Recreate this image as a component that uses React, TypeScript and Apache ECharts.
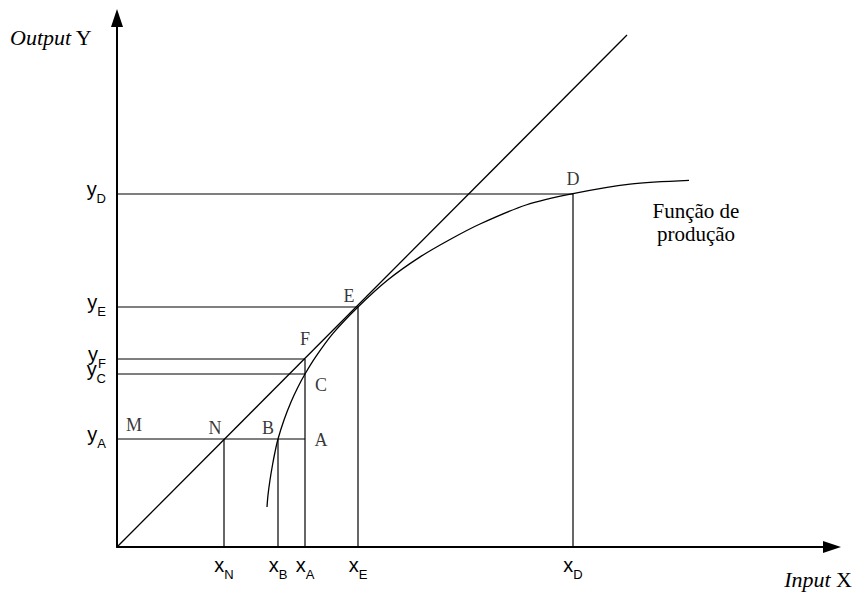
import React, { useEffect, useRef } from "react";
import * as echarts from "echarts";

// Axis tick labels (subscripts) and their positions
const xTickNames = ["N", "B", "A", "E", "D"];
const xTickValues = [10.7, 16.1, 18.8, 24.1, 45.6];
const yTickNames = ["A", "C", "F", "E", "D"];
const yTickValues = [10.8, 17.3, 18.8, 24.0, 35.3];

// Where each guide line ends
const hLineEndX = [18.8, 18.8, 18.8, 24.1, 45.6]; // for yTickValues
const vLineEndY = [10.8, 10.8, 18.8, 24.0, 35.3]; // for xTickValues

// Production function curve
const curveX = [15.0, 15.1, 15.3, 15.55, 15.8, 16.1, 16.7, 17.4, 18.1, 18.8, 19.9, 21.6, 24.1, 27.1, 30.2, 33.3, 36.3, 40.9, 45.6, 51.3, 57.2];
const curveY = [4.0, 5.2, 6.7, 8.2, 9.5, 10.8, 12.7, 14.5, 16.0, 17.3, 19.06, 21.36, 24.0, 26.72, 28.94, 30.75, 32.3, 34.2, 35.33, 36.28, 36.66];

// Ray from the origin
const rayX = [0, 51.0];
const rayY = [0, 51.2];

// Labelled points
const pointNames = ["D", "E", "F", "C", "M", "N", "B", "A"];
const pointX = [45.6, 24.1, 18.8, 18.8, 0, 10.7, 16.1, 18.8];
const pointY = [35.33, 24.0, 18.8, 17.3, 10.8, 10.8, 10.8, 10.8];

const X_MAX = 71.5;
const Y_MAX = 52.9;

const labelOffsets: Record<string, [number, number]> = {
  D: [0, -15],
  E: [-9, -11],
  F: [0, -20],
  C: [16, 11],
  M: [17, -14],
  N: [-9, -11],
  B: [-10, -11],
  A: [16, 1],
};

const SANS = "Liberation Sans";
const SERIF = "Liberation Serif";

const tickRich = {
  m: { fontFamily: SANS, fontSize: 20, lineHeight: 14, color: "#000", padding: [0, 0, 11, 0] },
  s: { fontFamily: SANS, fontSize: 13, lineHeight: 14, color: "#000", padding: [9, 0, 0, 0] },
};

function findIdx(arr: number[], v: number) {
  for (let i = 0; i < arr.length; i++) if (Math.abs(arr[i] - v) < 1e-6) return i;
  return -1;
}

export default function App() {
  const ref = useRef<HTMLDivElement>(null);
  useEffect(() => {
    document.body.style.margin = "0";
    if (!ref.current) return;
    const chart = echarts.init(ref.current, undefined, { renderer: "svg" });
    const lineStyle = { color: "#000", width: 1.2 };
    const guideSeries: any[] = [];
    yTickValues.forEach((y, i) => {
      guideSeries.push({
        type: "line",
        data: [[0, y], [hLineEndX[i], y]],
        symbol: "none",
        silent: true,
        lineStyle,
      });
    });
    xTickValues.forEach((x, i) => {
      guideSeries.push({
        type: "line",
        data: [[x, 0], [x, vLineEndY[i]]],
        symbol: "none",
        silent: true,
        lineStyle,
      });
    });

    const option: any = {
      animation: false,
      grid: { left: 117, right: 22, top: 18, bottom: 45, containLabel: false, outerBoundsMode: "none" },
      xAxis: {
        type: "value",
        min: 0,
        max: X_MAX,
        splitLine: { show: false },
        axisTick: { show: false },
        axisLine: {
          show: true,
          onZero: false,
          symbol: ["none", "triangle"],
          symbolSize: [12, 18],
          lineStyle: { color: "#000", width: 2 },
        },
        axisLabel: {
          show: true,
          customValues: xTickValues,
          margin: 16,
          hideOverlap: false,
          formatter: (v: number) => {
            const i = findIdx(xTickValues, v);
            return i < 0 ? "" : `{m|x}{s|${xTickNames[i]}}`;
          },
          rich: tickRich,
        },
      },
      yAxis: {
        type: "value",
        min: 0,
        max: Y_MAX,
        splitLine: { show: false },
        axisTick: { show: false },
        axisLine: {
          show: true,
          onZero: false,
          symbol: ["none", "triangle"],
          symbolSize: [12, 18],
          lineStyle: { color: "#000", width: 2 },
        },
        axisLabel: {
          show: true,
          customValues: yTickValues,
          margin: 11,
          hideOverlap: false,
          formatter: (v: number) => {
            const i = findIdx(yTickValues, v);
            return i < 0 ? "" : `{m|y}{s|${yTickNames[i]}}`;
          },
          rich: tickRich,
        },
      },
      series: [
        ...guideSeries,
        {
          type: "line",
          data: rayX.map((x, i) => [x, rayY[i]]),
          symbol: "none",
          silent: true,
          lineStyle: { color: "#000", width: 1.3 },
        },
        {
          type: "line",
          data: curveX.map((x, i) => [x, curveY[i]]),
          symbol: "none",
          smooth: 0.3,
          silent: true,
          lineStyle: { color: "#000", width: 1.3 },
        },
        {
          type: "scatter",
          symbolSize: 0,
          silent: true,
          data: pointNames.map((n, i) => ({
            name: n,
            value: [pointX[i], pointY[i]],
            label: { offset: labelOffsets[n] },
          })),
          label: {
            show: true,
            position: "inside",
            formatter: "{b}",
            fontFamily: SERIF,
            fontSize: 18,
            color: "#000",
            align: "center",
            verticalAlign: "middle",
          },
        },
      ],
      graphic: [
        {
          type: "text",
          x: 10,
          y: 37,
          style: {
            text: "{i|Output} Y",
            fontFamily: SERIF,
            fontSize: 22,
            fill: "#000",
            align: "left",
            verticalAlign: "middle",
            rich: {
              i: { fontFamily: SERIF, fontSize: 22, fontStyle: "italic", fill: "#000" },
            },
          },
        },
        {
          type: "text",
          x: 852,
          y: 579,
          style: {
            text: "{i|Input} X",
            fontFamily: SERIF,
            fontSize: 22,
            fill: "#000",
            align: "right",
            verticalAlign: "middle",
            rich: {
              i: { fontFamily: SERIF, fontSize: 22, fontStyle: "italic", fill: "#000" },
            },
          },
        },
        {
          type: "text",
          x: 696,
          y: 222,
          style: {
            text: "Função de\nprodução",
            fontFamily: SERIF,
            fontSize: 21,
            lineHeight: 23,
            fill: "#000",
            align: "center",
            verticalAlign: "middle",
          },
        },
      ],
    };
    chart.setOption(option);
    return () => chart.dispose();
  }, []);
  return <div ref={ref} style={{ width: 854, height: 592 }} />;
}
